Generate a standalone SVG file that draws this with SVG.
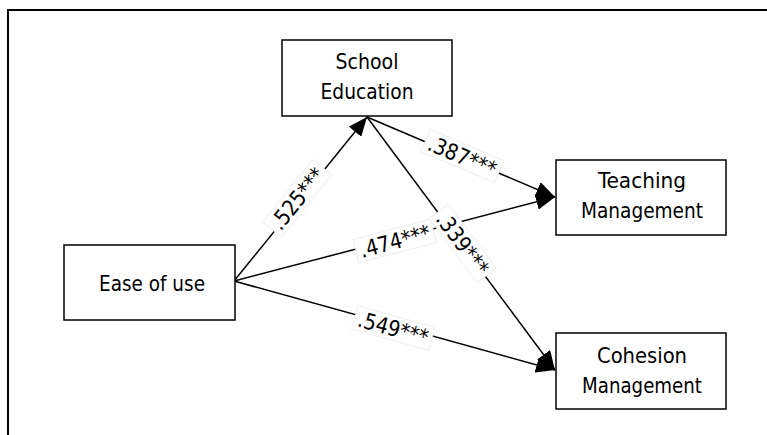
<svg xmlns="http://www.w3.org/2000/svg" width="767" height="435" viewBox="0 0 767 435">
<defs>
<style>
.box{fill:#fff;stroke:#000;stroke-width:1.5}
.t{font-family:"DejaVu Sans Condensed","DejaVu Sans",sans-serif;font-size:21px;fill:#000;text-anchor:middle}
.lbl{font-family:"DejaVu Sans Condensed","DejaVu Sans",sans-serif;font-size:22px;fill:#000;text-anchor:middle}
.lb{fill:#fff;stroke:#ececec;stroke-width:0.8}
.c{stroke:#000;stroke-width:1.5;fill:none;marker-end:url(#ah)}
</style>
<marker id="ah" markerUnits="userSpaceOnUse" markerWidth="20" markerHeight="16" refX="19" refY="8" orient="auto">
<path d="M0,0 L19,8 L0,16 Z" fill="#000"/>
</marker>
</defs>
<rect width="767" height="435" fill="#fff"/>
<path d="M8,435 L8,10 L767,10" fill="none" stroke="#000" stroke-width="2"/>
<g id="connectors">
<line class="c" x1="234" y1="281" x2="367" y2="117"/>
<line class="c" x1="367" y1="117" x2="555" y2="197"/>
<line class="c" x1="234" y1="281" x2="555" y2="197"/>
<line class="c" x1="367" y1="117" x2="555" y2="370"/>
<line class="c" x1="234" y1="281" x2="555" y2="370"/>
<g transform="translate(298,199) rotate(-51)"><rect class="lb" x="-40" y="-13" width="80" height="24"/><text class="lbl" y="7" textLength="72" lengthAdjust="spacingAndGlyphs">.525***</text></g>
<g transform="translate(462,157) rotate(23)"><rect class="lb" x="-40" y="-13" width="80" height="24"/><text class="lbl" y="7" textLength="72" lengthAdjust="spacingAndGlyphs">.387***</text></g>
<g transform="translate(395,242) rotate(-14.7)"><rect class="lb" x="-40" y="-13" width="80" height="24"/><text class="lbl" y="7" textLength="72" lengthAdjust="spacingAndGlyphs">.474***</text></g>
<g transform="translate(462,244) rotate(53.4)"><rect class="lb" x="-40" y="-13" width="80" height="24"/><text class="lbl" y="7" textLength="72" lengthAdjust="spacingAndGlyphs">.339***</text></g>
<g transform="translate(393,329) rotate(15.5)"><rect class="lb" x="-40" y="-13" width="80" height="24"/><text class="lbl" y="7" textLength="72" lengthAdjust="spacingAndGlyphs">.549***</text></g>
</g>
<g id="school">
<rect class="box" x="282" y="40" width="170" height="76"/>
<text class="t" x="367" y="69" textLength="63" lengthAdjust="spacingAndGlyphs">School</text>
<text class="t" x="367" y="99" textLength="93" lengthAdjust="spacingAndGlyphs">Education</text>
</g>
<g id="teaching">
<rect class="box" x="556" y="160" width="170" height="75"/>
<text class="t" x="642" y="188" textLength="88" lengthAdjust="spacingAndGlyphs">Teaching</text>
<text class="t" x="642" y="218" textLength="122" lengthAdjust="spacingAndGlyphs">Management</text>
</g>
<g id="ease">
<rect class="box" x="64" y="245" width="171" height="75"/>
<text class="t" x="152" y="291" textLength="106" lengthAdjust="spacingAndGlyphs">Ease of use</text>
</g>
<g id="cohesion">
<rect class="box" x="556" y="333" width="170" height="76"/>
<text class="t" x="642" y="363" textLength="90" lengthAdjust="spacingAndGlyphs">Cohesion</text>
<text class="t" x="642" y="393" textLength="120" lengthAdjust="spacingAndGlyphs">Management</text>
</g>
</svg>
